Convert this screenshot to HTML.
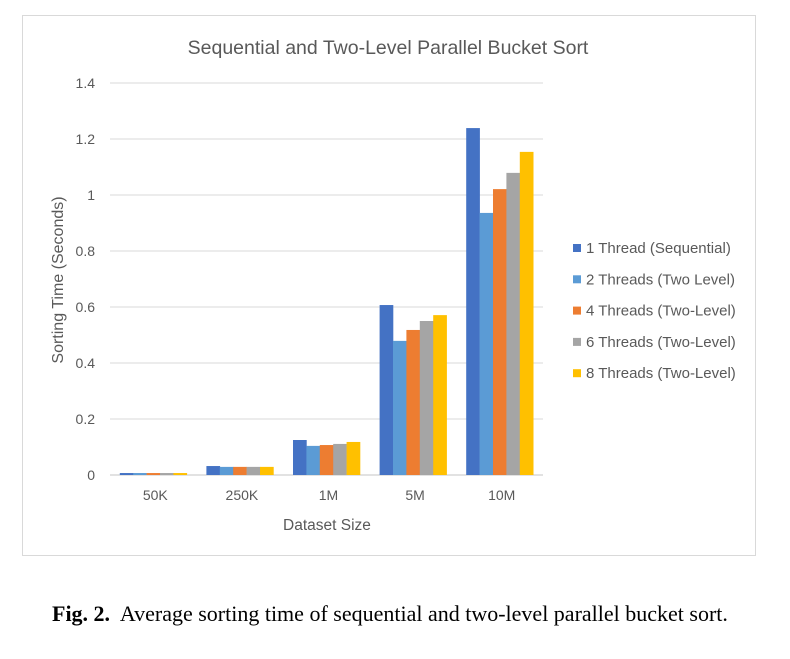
<!DOCTYPE html>
<html><head><meta charset="utf-8"><style>
body{margin:0;background:#fff;width:790px;height:659px;overflow:hidden;font-family:"Liberation Sans",sans-serif}
#frame{position:absolute;left:22px;top:15px;width:734px;height:541px;border:1px solid #d9d9d9;box-sizing:border-box}
svg{position:absolute;left:0;top:0}
#cap{position:absolute;left:52px;top:601px;font-family:"Liberation Serif",serif;font-size:22px;color:#000;white-space:nowrap}
</style></head><body>
<div id="frame"></div>
<svg id="chart" width="790" height="659"></svg>
<div id="cap"><b>Fig. 2.</b>&nbsp; Average sorting time of sequential and two-level parallel bucket sort.</div>
<script>
const categories=["50K","250K","1M","5M","10M"];
const seriesNames=["1 Thread (Sequential)","2 Threads (Two Level)","4 Threads (Two-Level)","6 Threads (Two-Level)","8 Threads (Two-Level)"];
const s1=[0.007,0.032,0.125,0.607,1.239];
const s2=[0.007,0.029,0.104,0.479,0.936];
const s4=[0.007,0.029,0.107,0.518,1.021];
const s6=[0.007,0.029,0.111,0.550,1.079];
const s8=[0.007,0.029,0.118,0.571,1.154];
const yTicks=[0,0.2,0.4,0.6,0.8,1,1.2,1.4];
const colors=["#4472c4","#5b9bd5","#ed7d31","#a5a5a5","#ffc000"];
const series=[s1,s2,s4,s6,s8];
const NS="http://www.w3.org/2000/svg";
const svg=document.getElementById('chart');
const X0=110,X1=543,Y0=475,YMAX=1.4,YTOP=83;
const y=v=>Y0-(v/YMAX)*(Y0-YTOP);
const bandW=(X1-X0)/categories.length;
const xc=i=>X0+bandW*(i+0.5);
function el(t,a,txt){const e=document.createElementNS(NS,t);for(const k in a)e.setAttribute(k,a[k]);if(txt!=null)e.textContent=txt;svg.appendChild(e);return e;}
yTicks.forEach(t=>{
 const g=el('line',{x1:X0,x2:X1,y1:y(t),y2:y(t),stroke:'#d9d9d9','stroke-width':t===0?1.5:1});
 
 
 const l=el('text',{x:95,y:y(t)+5,'text-anchor':'end','font-size':14,fill:'#595959'},String(t));
 
 
});
const groupW=67,bw=groupW/5;
categories.forEach((c,i)=>{
 series.forEach((s,j)=>{
  const r=el('rect',{x:xc(i)-groupW/2+j*bw,y:y(s[i]),width:bw+0.3,height:Y0-y(s[i]),fill:colors[j]});
  
  
 });
 const t=el('text',{x:xc(i)+2,y:500,'text-anchor':'middle','font-size':14,fill:'#595959'},c);
 
 
});
const title=el('text',{x:388,y:54,'text-anchor':'middle','font-size':19.5,fill:'#595959'},'Sequential and Two-Level Parallel Bucket Sort');


const xt=el('text',{x:327,y:530,'text-anchor':'middle','font-size':15.5,fill:'#595959'},'Dataset Size');


const yt=el('text',{x:0,y:0,'text-anchor':'middle','font-size':16,fill:'#595959',transform:'translate(63,280) rotate(-90)'},'Sorting Time (Seconds)');


seriesNames.forEach((n,j)=>{
 const yy=248+j*31.3;
 const sq=el('rect',{x:573,y:yy-4,width:8,height:8,fill:colors[j]});
 
 
 const t=el('text',{x:586,y:yy+5,'font-size':15,fill:'#595959'},n);
 
 
});
</script>
</body></html>
